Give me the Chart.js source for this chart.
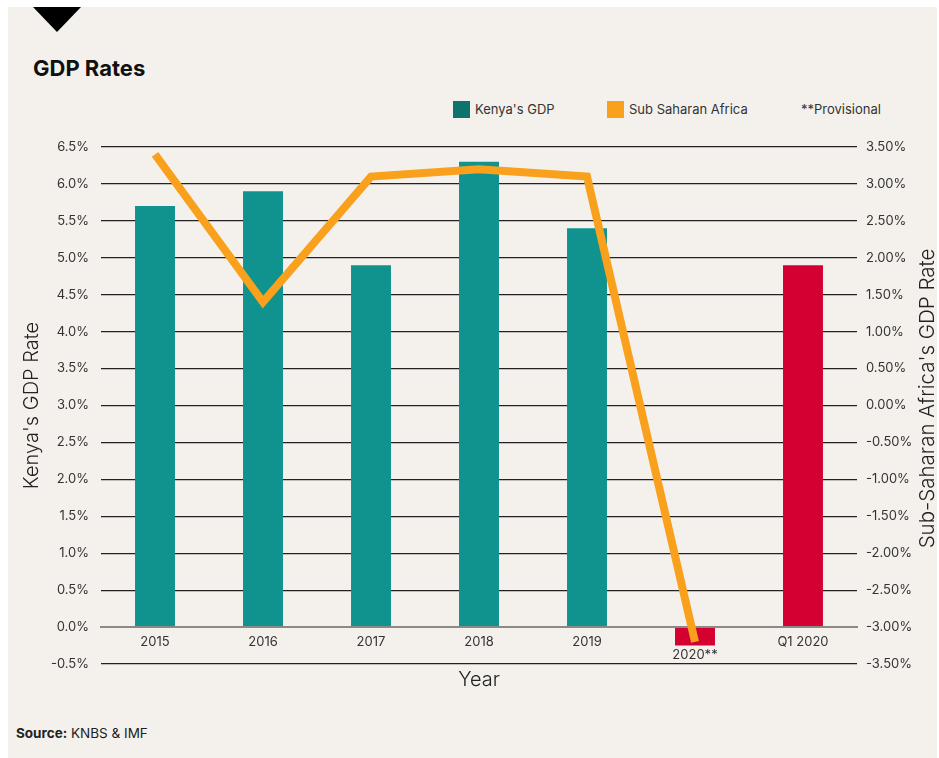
<!DOCTYPE html>
<html>
<head>
<meta charset="utf-8">
<script src="https://cdn.jsdelivr.net/npm/chart.js@4/dist/chart.umd.min.js"></script>
<style>
html,body{margin:0;padding:0;background:#fff;}
body{width:939px;height:758px;position:relative;overflow:hidden;font-family:Inter,'Liberation Sans',sans-serif;}
#panel{position:absolute;left:8px;top:7px;width:929px;height:751px;background:#f4f1ec;}
#tri{position:absolute;left:33px;top:7px;width:0;height:0;border-left:24.5px solid transparent;border-right:24.5px solid transparent;border-top:25px solid #000;}
#title{position:absolute;left:33px;top:55px;font-size:22px;font-weight:700;color:#111;letter-spacing:0px;line-height:26px;}
.leg{position:absolute;top:101px;font-size:13px;color:#333;line-height:17px;white-space:nowrap;}
.sw{position:absolute;top:101px;width:17px;height:17px;}
#src{position:absolute;left:16px;top:725px;font-size:13.5px;color:#222;line-height:17px;}
#wrap{position:absolute;left:0;top:0;width:939px;height:758px;}
</style>
</head>
<body>
<div id="panel"></div>
<div id="tri"></div>
<div id="title">GDP Rates</div>
<div id="legend"></div>
<div id="src"><b>Source:</b> KNBS &amp; IMF</div>
<div id="wrap"><canvas id="c" width="939" height="758"></canvas></div>
<script>
// ---- data ----
const categories = ['2015', '2016', '2017', '2018', '2019', '2020**', 'Q1 2020'];
const kenyaGdp = [5.7, 5.9, 4.9, 6.3, 5.4, -0.25, 4.9];
const ssaGdp = [3.4, 1.4, 3.1, 3.2, 3.1, -3.2, null];
const highlighted = ['2020**', 'Q1 2020'];
const seriesNames = ["Kenya's GDP", 'Sub Saharan Africa'];
const legendNote = '**Provisional';
const leftAxis = {min: -0.5, max: 6.5, step: 0.5, title: "Kenya's GDP Rate"};
const rightAxis = {min: -3.5, max: 3.5, step: 0.5, title: "Sub-Saharan Africa's GDP Rate"};
const xTitle = 'Year';

// ---- styles ----
const TEAL = '#10938f', TEAL_LEG = '#0f736d', RED = '#d50032', ORANGE = '#f9a01d';
const FONT = 'Inter, "Liberation Sans", sans-serif';

// legend (HTML)
const leg = document.getElementById('legend');
function addItem(swX, color, textX, text) {
  if (color) { const s = document.createElement('div'); s.className = 'sw'; s.style.left = swX + 'px'; s.style.background = color; leg.appendChild(s); }
  const t = document.createElement('div'); t.className = 'leg'; t.style.left = textX + 'px'; t.textContent = text; leg.appendChild(t);
}
addItem(453, TEAL_LEG, 475, seriesNames[0]);
addItem(607, ORANGE, 629, seriesNames[1]);
addItem(0, null, 801, legendNote);

const rightTitlePlugin = {
  id: 'rightTitle',
  afterDraw(chart) {
    const {ctx, chartArea} = chart;
    ctx.save();
    ctx.translate(928, (chartArea.top + chartArea.bottom) / 2 - 7);
    ctx.rotate(-Math.PI / 2);
    ctx.font = '300 20.5px ' + FONT;
    ctx.fillStyle = '#222';
    ctx.textAlign = 'center';
    ctx.textBaseline = 'middle';
    ctx.fillText(rightAxis.title, 0, 0);
    ctx.restore();
  }
};

new Chart(document.getElementById('c'), {
  data: {
    labels: categories,
    datasets: [
      {
        type: 'line', label: seriesNames[1], data: ssaGdp, yAxisID: 'y2',
        borderColor: ORANGE, borderWidth: 8, pointRadius: 0, tension: 0, order: 0,
        borderCapStyle: 'butt', borderJoinStyle: 'miter', fill: false
      },
      {
        type: 'bar', label: seriesNames[0], data: kenyaGdp, yAxisID: 'y',
        backgroundColor: categories.map(c => highlighted.includes(c) ? RED : TEAL),
        barPercentage: 0.37, categoryPercentage: 1, order: 1
      }
    ]
  },
  options: {
    responsive: false, maintainAspectRatio: false, animation: false,
    layout: {padding: {top: 147, left: 0, right: 0, bottom: 94}},
    plugins: {legend: {display: false}, tooltip: {enabled: false}, title: {display: false}},
    scales: {
      x: {
        position: {y: 0}, offset: true,
        grid: {display: false, drawTicks: false},
        border: {display: true, color: '#8c8a87', width: 2},
        ticks: {
          autoSkip: false, maxRotation: 0, minRotation: 0, padding: 9, color: '#333',
          font: {family: FONT, size: 13, lineHeight: 0.95},
          callback: (v, i) => kenyaGdp[i] < 0 ? ['', categories[i]] : categories[i]
        },
        title: {display: true, text: xTitle, color: '#222', padding: 0, font: {family: FONT, size: 20, weight: '300', lineHeight: 1.2}},
        afterFit: s => { s.height = 65; }
      },
      y: {
        position: 'left', min: leftAxis.min, max: leftAxis.max,
        grid: {
          drawTicks: false,
          color: c => c.tick && c.tick.value === 0 ? '#8c8a87' : '#222',
          lineWidth: c => c.tick && c.tick.value === 0 ? 2 : 1.2
        },
        border: {display: false},
        ticks: {stepSize: leftAxis.step, padding: 12, color: '#333', font: {family: FONT, size: 13},
          callback: v => v.toFixed(1) + '%'},
        title: {display: true, text: leftAxis.title, color: '#222', padding: {top: 20, bottom: 0}, font: {family: FONT, size: 20, weight: '300', lineHeight: 1.2}},
        afterFit: s => { s.width = 101; }
      },
      y2: {
        position: 'right', min: rightAxis.min, max: rightAxis.max,
        grid: {display: false, drawOnChartArea: false, drawTicks: false},
        border: {display: false},
        ticks: {stepSize: rightAxis.step, padding: 9, color: '#333', font: {family: FONT, size: 13},
          callback: v => v.toFixed(2) + '%'},
        afterFit: s => { s.width = 82; }
      }
    }
  },
  plugins: [rightTitlePlugin]
});
</script>
</body>
</html>
